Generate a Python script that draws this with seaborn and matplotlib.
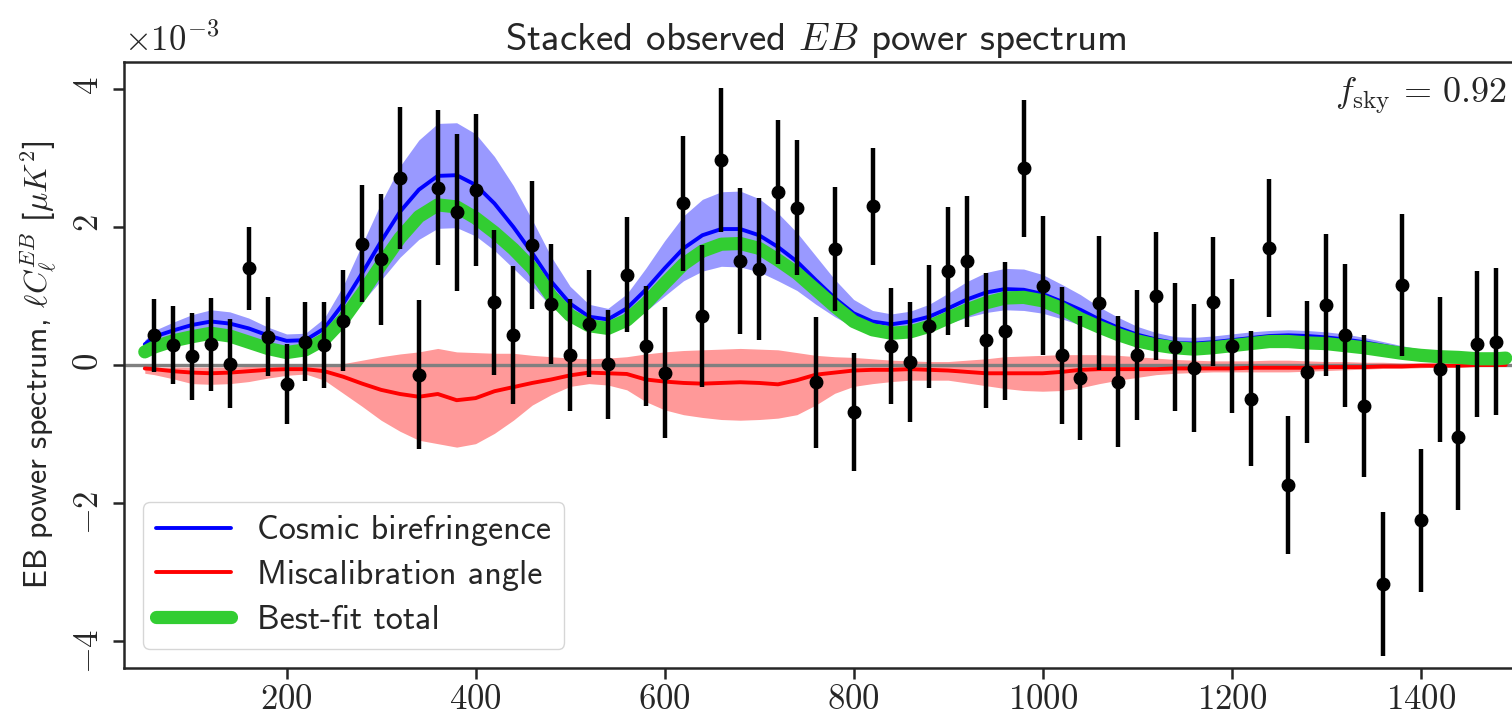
import numpy as np
import pandas as pd
import matplotlib
matplotlib.use("Agg")
import matplotlib.pyplot as plt
import seaborn as sns
from matplotlib.ticker import MultipleLocator, ScalarFormatter

# ---------------- data (values in units of 1e-3 muK^2) ----------------
ell_obs = np.arange(60, 1481, 20)
obs = [0.43, 0.29, 0.13, 0.30, 0.02, 1.40, 0.41, -0.27, 0.34, 0.29,
       0.64, 1.76, 1.53, 2.71, -0.14, 2.57, 2.21, 2.54, 0.91, 0.43,
       1.74, 0.89, 0.15, 0.60, 0.01, 1.31, 0.28, -0.11, 2.34, 0.71,
       2.97, 1.51, 1.39, 2.51, 2.28, -0.25, 1.68, -0.68, 2.30, 0.27,
       0.05, 0.56, 1.36, 1.50, 0.36, 0.49, 2.85, 1.15, 0.14, -0.19,
       0.90, -0.24, 0.15, 1.00, 0.26, -0.04, 0.92, 0.27, -0.49, 1.69,
       -1.74, -0.10, 0.87, 0.43, -0.59, -3.17, 1.16, -2.25, -0.06, -1.05,
       0.30, 0.34]
obs_err = [0.53, 0.57, 0.63, 0.67, 0.65, 0.60, 0.57, 0.58, 0.57, 0.63,
           0.73, 0.85, 0.95, 1.03, 1.08, 1.12, 1.14, 1.10, 1.05, 1.00,
           0.93, 0.87, 0.81, 0.78, 0.79, 0.83, 0.87, 0.95, 0.98, 1.03,
           1.05, 1.06, 1.03, 1.04, 0.98, 0.95, 0.90, 0.86, 0.85, 0.84,
           0.87, 0.89, 0.93, 0.95, 0.98, 1.00, 0.99, 1.01, 0.99, 0.90,
           0.97, 0.95, 0.94, 0.93, 0.93, 0.93, 0.94, 0.97, 0.98, 1.00,
           1.00, 1.03, 1.03, 1.04, 1.03, 1.04, 1.03, 1.04, 1.05, 1.05,
           1.06, 1.07]

ell_model = np.concatenate([[50], np.arange(60, 1481, 20), [1490]])
total = [0.19, 0.26, 0.35, 0.41, 0.46, 0.42, 0.33, 0.24, 0.18, 0.22,
         0.37, 0.66, 1.04, 1.45, 1.84, 2.15, 2.32, 2.29, 2.13, 1.92,
         1.68, 1.40, 1.00, 0.72, 0.57, 0.53, 0.65, 0.89, 1.18, 1.46,
         1.65, 1.75, 1.76, 1.69, 1.52, 1.33, 1.09, 0.85, 0.63, 0.51,
         0.46, 0.48, 0.56, 0.68, 0.80, 0.90, 0.97, 0.98, 0.93, 0.82,
         0.67, 0.55, 0.44, 0.35, 0.29, 0.25, 0.23, 0.25, 0.28, 0.31,
         0.34, 0.34, 0.32, 0.31, 0.28, 0.25, 0.21, 0.17, 0.14, 0.12,
         0.11, 0.09, 0.09, 0.10]
cb = [0.30, 0.41, 0.50, 0.58, 0.63, 0.60, 0.53, 0.43, 0.35, 0.36,
      0.53, 0.89, 1.33, 1.79, 2.22, 2.54, 2.74, 2.75, 2.61, 2.34,
      2.00, 1.62, 1.21, 0.89, 0.70, 0.66, 0.82, 1.09, 1.40, 1.69,
      1.88, 1.97, 1.97, 1.88, 1.71, 1.50, 1.23, 0.97, 0.75, 0.63,
      0.59, 0.63, 0.70, 0.82, 0.95, 1.05, 1.10, 1.09, 1.03, 0.92,
      0.80, 0.66, 0.54, 0.44, 0.37, 0.32, 0.31, 0.33, 0.36, 0.39,
      0.42, 0.43, 0.42, 0.40, 0.37, 0.33, 0.28, 0.23, 0.19, 0.16,
      0.13, 0.11, 0.10, 0.10]
cb_hi = [0.36, 0.50, 0.62, 0.73, 0.80, 0.77, 0.68, 0.55, 0.45, 0.46,
         0.68, 1.15, 1.75, 2.35, 2.88, 3.26, 3.50, 3.51, 3.35, 3.02,
         2.60, 2.10, 1.57, 1.14, 0.88, 0.82, 1.03, 1.40, 1.80, 2.16,
         2.40, 2.51, 2.52, 2.41, 2.20, 1.92, 1.58, 1.24, 0.95, 0.79,
         0.74, 0.78, 0.88, 1.04, 1.21, 1.34, 1.40, 1.39, 1.31, 1.17,
         1.02, 0.84, 0.69, 0.56, 0.47, 0.41, 0.40, 0.42, 0.45, 0.48,
         0.50, 0.51, 0.50, 0.48, 0.45, 0.40, 0.34, 0.28, 0.23, 0.19,
         0.16, 0.14, 0.12, 0.12]
cb_lo = [0.24, 0.32, 0.38, 0.43, 0.46, 0.43, 0.38, 0.31, 0.25, 0.26,
         0.38, 0.63, 0.91, 1.23, 1.56, 1.82, 1.98, 1.99, 1.87, 1.66,
         1.40, 1.14, 0.85, 0.64, 0.52, 0.50, 0.61, 0.78, 1.00, 1.22,
         1.36, 1.43, 1.42, 1.35, 1.22, 1.08, 0.88, 0.70, 0.55, 0.47,
         0.44, 0.48, 0.52, 0.60, 0.69, 0.76, 0.80, 0.79, 0.75, 0.67,
         0.58, 0.48, 0.39, 0.32, 0.27, 0.23, 0.22, 0.24, 0.27, 0.30,
         0.34, 0.35, 0.34, 0.32, 0.29, 0.26, 0.22, 0.18, 0.15, 0.13,
         0.10, 0.08, 0.08, 0.08]
mis = [-0.05, -0.06, -0.09, -0.11, -0.12, -0.11, -0.09, -0.07, -0.06, -0.06,
       -0.09, -0.17, -0.27, -0.36, -0.42, -0.46, -0.42, -0.51, -0.48, -0.38,
       -0.32, -0.26, -0.21, -0.15, -0.11, -0.12, -0.13, -0.21, -0.24, -0.26,
       -0.27, -0.26, -0.25, -0.26, -0.28, -0.22, -0.14, -0.11, -0.08, -0.07,
       -0.07, -0.06, -0.07, -0.08, -0.10, -0.12, -0.12, -0.12, -0.12, -0.10,
       -0.07, -0.06, -0.06, -0.06, -0.06, -0.05, -0.05, -0.05, -0.05, -0.04,
       -0.04, -0.04, -0.04, -0.03, -0.03, -0.03, -0.02, -0.02, -0.01, -0.01,
       -0.01, 0.00, 0.00, 0.00]
mis_hi = [-0.03, -0.03, -0.03, -0.03, -0.03, -0.03, -0.02, -0.02, -0.02, -0.01,
          0.00, 0.02, 0.07, 0.12, 0.16, 0.19, 0.24, 0.19, 0.18, 0.17,
          0.17, 0.14, 0.12, 0.10, 0.09, 0.10, 0.12, 0.16, 0.19, 0.21,
          0.22, 0.23, 0.24, 0.23, 0.22, 0.18, 0.14, 0.12, 0.11, 0.09,
          0.07, 0.06, 0.05, 0.05, 0.07, 0.09, 0.12, 0.13, 0.14, 0.15,
          0.15, 0.15, 0.14, 0.12, 0.10, 0.08, 0.07, 0.06, 0.06, 0.06,
          0.07, 0.07, 0.06, 0.05, 0.05, 0.04, 0.04, 0.03, 0.03, 0.03,
          0.02, 0.02, 0.02, 0.02]
mis_lo = [-0.12, -0.14, -0.20, -0.27, -0.28, -0.27, -0.24, -0.19, -0.15, -0.13,
          -0.22, -0.41, -0.60, -0.80, -0.96, -1.09, -1.14, -1.19, -1.14, -0.99,
          -0.80, -0.58, -0.43, -0.31, -0.27, -0.29, -0.36, -0.53, -0.65, -0.72,
          -0.76, -0.79, -0.80, -0.79, -0.77, -0.72, -0.58, -0.41, -0.31, -0.27,
          -0.24, -0.22, -0.22, -0.22, -0.26, -0.30, -0.34, -0.37, -0.38, -0.37,
          -0.33, -0.27, -0.22, -0.18, -0.14, -0.12, -0.11, -0.10, -0.10, -0.10,
          -0.10, -0.10, -0.09, -0.08, -0.07, -0.06, -0.05, -0.05, -0.04, -0.03,
          -0.03, -0.02, -0.02, -0.02]

x_ticks = [200, 400, 600, 800, 1000, 1200, 1400]
title = r"Stacked observed $EB$ power spectrum"
ylabel = r"EB power spectrum, $\ell C_\ell^{EB}$ [$\mu K^2$]"
fsky_label = r"$f_{\rm sky}\,=\,0.92$"
labels = ["Cosmic birefringence", "Miscalibration angle", "Best-fit total"]

# ---------------- style ----------------
sns.set_style("ticks")
plt.rcParams["font.family"] = ["cmss10", "DejaVu Sans"]
plt.rcParams["mathtext.fontset"] = "cm"
plt.rcParams["axes.formatter.use_mathtext"] = True

scale = 1e-3
model = pd.DataFrame({
    "ell": ell_model,
    "total": np.array(total) * scale,
    "cb": np.array(cb) * scale,
    "cb_lo": np.array(cb_lo) * scale,
    "cb_hi": np.array(cb_hi) * scale,
    "mis": np.array(mis) * scale,
    "mis_lo": np.array(mis_lo) * scale,
    "mis_hi": np.array(mis_hi) * scale,
})
data = pd.DataFrame({"ell": ell_obs, "cl": np.array(obs) * scale,
                     "err": np.array(obs_err) * scale})

W, H = 1512, 722
fig = plt.figure(figsize=(W / 100, H / 100), dpi=100)
ax_l, ax_r, ax_t, ax_b = 124, 1535, 62, 668
ax = fig.add_axes([ax_l / W, (H - ax_b) / H, (ax_r - ax_l) / W, (ax_b - ax_t) / H])

ax.fill_between(model["ell"], model["cb_lo"], model["cb_hi"], color="blue",
                alpha=0.4, lw=0, zorder=1)
ax.fill_between(model["ell"], model["mis_lo"], model["mis_hi"], color="red",
                alpha=0.4, lw=0, zorder=1)
ax.axhline(0, color="gray", lw=2.4, zorder=1.5)

sns.lineplot(data=model, x="ell", y="cb", ax=ax, color="blue", lw=2.8,
             label=labels[0], estimator=None, sort=False, zorder=2)
sns.lineplot(data=model, x="ell", y="mis", ax=ax, color="red", lw=2.8,
             label=labels[1], estimator=None, sort=False, zorder=2)
sns.lineplot(data=model, x="ell", y="total", ax=ax, color="limegreen", lw=9.5,
             label=labels[2], estimator=None, sort=False, zorder=3)

ax.errorbar(data["ell"], data["cl"], yerr=data["err"], fmt="o", color="black",
            ms=9, elinewidth=3.2, capsize=0, zorder=5)

ax.set_xlim(28, 1521)
ax.set_ylim(-4.39e-3, 4.39e-3)
ax.set_xticks(x_ticks)
ax.yaxis.set_major_locator(MultipleLocator(2e-3))
fmt = ScalarFormatter(useMathText=True)
fmt.set_powerlimits((0, 0))
ax.yaxis.set_major_formatter(fmt)

ax.set_xlabel("")
ax.set_ylabel(ylabel, fontsize=23, labelpad=10)
ax.set_title(title, fontsize=28, pad=9, x=0.49)
ax.tick_params(axis="both", labelsize=25, length=8, width=1.8,
               labelfontfamily="cmr10", direction="out")
ax.tick_params(axis="y", labelrotation=90, pad=6)
off = ax.yaxis.get_offset_text()
off.set_fontsize(25)
off.set_fontfamily("cmr10")
off.set_verticalalignment("bottom")
for sp in ax.spines.values():
    sp.set_linewidth(1.8)

ax.text(0.98, 0.932, fsky_label, transform=ax.transAxes, ha="right",
        va="baseline", fontsize=26)

leg = ax.legend(loc="lower left", fontsize=24.5, handlelength=2.2,
                borderaxespad=0.55, labelspacing=0.4, handletextpad=0.75)
leg.get_frame().set_edgecolor("0.8")

fig.savefig("out.png", dpi=100)
